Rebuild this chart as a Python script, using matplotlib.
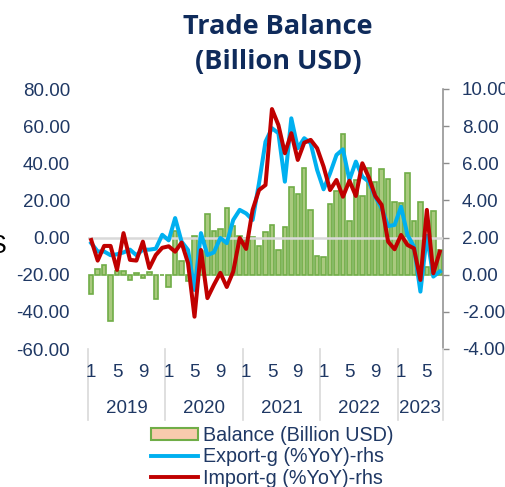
import numpy as np
import matplotlib
matplotlib.use('Agg')
from matplotlib import pyplot as plt
from matplotlib.patches import Patch
from matplotlib.lines import Line2D
from matplotlib.transforms import blended_transform_factory

plt.rcParams['font.family'] = ['Liberation Sans', 'DejaVu Sans']

# monthly data, Jan 2019 .. Jul 2023
balance = [-1.06, 0.33, 0.54, -2.50, 0.21, 0.20, -0.28, 0.08, -0.16, 0.16, -1.33, -0.03,
           -0.65, 2.34, 0.74, -0.35, 2.09, 1.27, 3.26, 2.33, 2.44, 3.61, 2.62, 2.10,
           1.96, 2.01, 1.57, 2.29, 2.70, 1.32, 2.59, 4.74, 4.37, 5.73, 3.51, 1.02,
           0.93, 3.83, 4.53, 7.56, 2.90, 5.09, 4.23, 5.76, 4.99, 5.67, 5.16, 3.89,
           3.87, 5.48, 2.91, 3.94, 0.44, 3.45, 1.31]
export_g = [-3.0, -7.5, -7.5, -9.5, -9.0, -8.0, -6.5, -9.5, -6.5, -6.5, -6.0, 1.5,
            -1.5, 10.5, -2.2, -6.7, -28.2, 2.4, -9.4, -8.0, -0.2, -3.0, 9.5, 14.9,
            13.0, 9.5, 29.4, 51.6, 58.9, 56.2, 30.1, 64.2, 48.1, 53.5, 50.8, 36.4,
            26.0, 34.6, 44.5, 47.5, 31.0, 40.9, 32.8, 30.1, 22.0, 15.8, 6.2, 6.8,
            16.6, 1.4, -4.9, -29.1, 1.0, -21.0, -18.3]
import_g = [-1.3, -12.4, -4.5, -4.5, -17.4, 2.4, -12.0, -12.4, -2.2, -16.4, -9.4, -5.5,
            -4.7, -7.6, -2.7, -13.8, -42.6, -6.7, -32.6, -25.5, -19.0, -26.6, -18.3, -0.2,
            -6.1, 14.9, 25.6, 28.3, 69.2, 60.6, 45.4, 56.2, 41.8, 51.1, 52.6, 48.1,
            38.2, 25.6, 31.0, 22.0, 30.6, 22.4, 40.0, 32.5, 22.4, 17.6, -2.2, -6.3,
            1.4, -4.0, -5.8, -22.8, 14.9, -19.2, -7.6]
years = ['2019', '2020', '2021', '2022', '2023']
months_in_year = [12, 12, 12, 12, 7]
month_labels = ['1', '5', '9']

navy = '#1f3864'
x = np.arange(len(balance))

fig = plt.figure(figsize=(5.06, 4.87), dpi=100)
ax = fig.add_axes([88 / 506, 1 - 349 / 487, 355 / 506, 260 / 487])
ax2 = ax.twinx()
ax.set_zorder(ax2.get_zorder() + 1)
ax.patch.set_visible(False)

# bars on right scale
ax2.bar(x, balance, width=0.7, color='#a9c97e', edgecolor='#70ad47', linewidth=1.2)
ax2.set_ylim(-4, 10)
ax2.set_yticks(np.arange(-4, 10.1, 2))
ax2.set_yticklabels(['%.2f' % v for v in np.arange(-4, 10.1, 2)])

# growth lines on left scale
ax.axhline(0, color='#d9d9d9', lw=1.8, zorder=1)
ax.plot(x, export_g, color='#00b0f0', lw=2.9, zorder=3)
ax.plot(x, import_g, color='#c00000', lw=2.9, zorder=4)
ax.set_ylim(-60, 80)
ax.set_yticks(np.arange(-60, 81, 20))
ax.set_yticklabels(['%.2f' % v for v in np.arange(-60, 81, 20)])
ax.set_xlim(-0.5, len(balance) - 0.5)
ax.set_xticks([])

for a in (ax, ax2):
    for s in a.spines.values():
        s.set_visible(False)
ax2.spines['right'].set_visible(True)
ax2.spines['right'].set_color('#8c8c8c')
ax2.spines['right'].set_linewidth(1.1)

ax.tick_params(axis='y', length=0, pad=13, labelsize=13.5, labelcolor=navy)
ax2.tick_params(axis='y', direction='out', length=4.5, width=1.0, color='#8c8c8c',
                pad=9, labelsize=13.5, labelcolor=navy)

# category axis: months and years
tr = blended_transform_factory(ax.transData, ax.transAxes)
start = 0
edges = [-0.5]
for yr, n in zip(years, months_in_year):
    for lab in month_labels:
        m = int(lab) - 1
        if m < n:
            ax.text(start + m, -0.092, lab, transform=tr, ha='center', va='center',
                    fontsize=13.5, color=navy)
    ax.text(start + (n - 1) / 2, -0.227, yr, transform=tr, ha='center', va='center',
            fontsize=13.5, color=navy)
    start += n
    edges.append(start - 0.5)
for e in edges:
    ax.plot([e, e], [0, -0.273], transform=tr, color='#d9d9d9', lw=1.2, clip_on=False)

# title
fig.text(278 / 506, 1 - 27 / 487, 'Trade Balance', ha='center', va='center',
         fontsize=19.5, fontweight='bold', color='#0f2b5b', family=['Open Sans', 'DejaVu Sans'])
fig.text(278 / 506, 1 - 62 / 487, '(Billion USD)', ha='center', va='center',
         fontsize=19.5, fontweight='bold', color='#0f2b5b', family=['Open Sans', 'DejaVu Sans'])

# cut-off label on left edge
fig.text(7 / 506, 1 - 246 / 487, 'S', ha='right', va='center', fontsize=18, color='black')

handles = [Patch(facecolor='#f8cbad', edgecolor='#70ad47', linewidth=1.5),
           Line2D([], [], color='#00b0f0', lw=2.8),
           Line2D([], [], color='#c00000', lw=2.8)]
labels = ['Balance (Billion USD)', 'Export-g (%YoY)-rhs', 'Import-g (%YoY)-rhs']
fig.legend(handles, labels, loc='upper left', bbox_to_anchor=(151 / 506, 1 - 426 / 487),
           frameon=False, fontsize=14.2, labelcolor=navy, handlelength=2.4,
           handleheight=0.6, handletextpad=0.25, labelspacing=0.12, borderpad=0,
           borderaxespad=0)

fig.savefig('out.png', dpi=100)
